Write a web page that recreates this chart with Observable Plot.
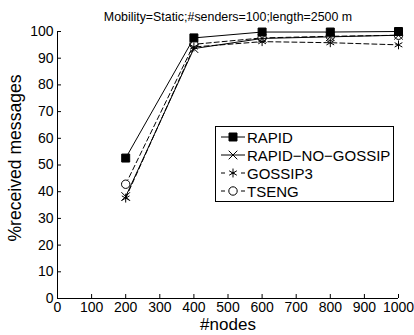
<!DOCTYPE html>
<html><head><meta charset="utf-8">
<script src="https://cdn.jsdelivr.net/npm/d3@7"></script>
<script src="https://cdn.jsdelivr.net/npm/@observablehq/plot@0.6"></script>
<style>
body{margin:0;background:#fff;}
#wrap{position:relative;width:414px;height:335px;}
#legend{position:absolute;left:215px;top:126px;width:179px;height:76px;border:1px solid #000;background:#fff;font-family:"Liberation Sans",Arial,sans-serif;font-size:15px;box-sizing:border-box;}
#legend .row{display:flex;align-items:center;height:18px;}
#legend svg{flex:none;}
</style>
</head><body>
<div id="wrap"></div>
<script>
const nodes = [200, 400, 600, 800, 1000];
const rapid = [52.6, 97.6, 99.8, 99.8, 100];
const rapidNoGossip = [38.2, 93.6, 97.4, 98.0, 98.6];
const gossip3 = [37.6, 94.2, 96.2, 95.8, 95.0];
const tseng = [42.8, 95.2, 97.6, 98.2, 98.6];
const seriesNames = ["RAPID", "RAPID−NO−GOSSIP", "GOSSIP3", "TSENG"];
const xTicks = [0,100,200,300,400,500,600,700,800,900,1000];
const yTicks = [0,10,20,30,40,50,60,70,80,90,100];
const title = "Mobility=Static;#senders=100;length=2500 m";

const styles = {
  "RAPID": {symbol: "square", fill: "black", dash: null, r: 4.5},
  "RAPID−NO−GOSSIP": {symbol: "times", fill: "none", dash: null, r: 4},
  "GOSSIP3": {symbol: "asterisk", fill: "none", dash: "5,3", r: 4.2},
  "TSENG": {symbol: "circle", fill: "white", dash: "5,3", r: 4.2}
};
const valuesBy = {"RAPID": rapid, "RAPID−NO−GOSSIP": rapidNoGossip, "GOSSIP3": gossip3, "TSENG": tseng};
const data = seriesNames.map(s => nodes.map((n, i) => ({series: s, nodes: n, value: valuesBy[s][i]})));

const W = 414, H = 335, mL = 57, mR = 16, mT = 31, mB = 37;
const marks = [
  Plot.axisX(xTicks, {tickSize: 0, tickPadding: 4, label: null, fontSize: 14, tickFormat: d => String(d)}),
  Plot.axisY(yTicks, {tickSize: 0, tickPadding: 4, label: null, fontSize: 14, tickFormat: d => String(d)}),
  Plot.tickX(xTicks, {x: d => d, insetTop: H - mT - mB - 4, stroke: "black"}),
  Plot.tickY(yTicks, {y: d => d, insetRight: W - mL - mR - 4, stroke: "black"}),
  Plot.ruleY([0], {stroke: "black"}),
  Plot.ruleX([0], {stroke: "black"}),
];
["TSENG", "GOSSIP3", "RAPID−NO−GOSSIP", "RAPID"].forEach(s => {
  const st = styles[s];
  const d = data[seriesNames.indexOf(s)];
  marks.push(Plot.line(d, {x: "nodes", y: "value", stroke: "black", strokeWidth: 1, strokeDasharray: st.dash}));
  marks.push(Plot.dot(d, {x: "nodes", y: "value", symbol: () => st.symbol, r: st.r, stroke: "black", strokeWidth: 1, fill: st.fill}));
});
marks.push(Plot.text([title], {frameAnchor: "top", dy: -19, fontSize: 12.4, text: d => d}));
marks.push(Plot.text(["#nodes"], {frameAnchor: "bottom", dy: 26, fontSize: 17, text: d => d, lineAnchor: "middle"}));
marks.push(Plot.text(["%received messages"], {frameAnchor: "left", textAnchor: "middle", dx: -42, dy: -7, rotate: -90, fontSize: 17.6, text: d => d}));

const chart = Plot.plot({
  width: W, height: H,
  marginLeft: mL, marginRight: mR, marginTop: mT, marginBottom: mB,
  style: {fontFamily: "Liberation Sans, Arial, sans-serif", fontSize: "14px", background: "white", color: "black", overflow: "visible"},
  x: {domain: [0, 1000], ticks: xTicks},
  y: {domain: [0, 100], ticks: yTicks},
  marks
});
const wrap = document.getElementById("wrap");
wrap.appendChild(chart);

const leg = document.createElement("div");
leg.id = "legend";
leg.style.paddingTop = "1px";
const ns = "http://www.w3.org/2000/svg";
seriesNames.forEach(s => {
  const st = styles[s];
  const row = document.createElement("div");
  row.className = "row";
  const svg = document.createElementNS(ns, "svg");
  svg.setAttribute("width", 31); svg.setAttribute("height", 18);
  const line = document.createElementNS(ns, "line");
  line.setAttribute("x1", 5); line.setAttribute("x2", 29); line.setAttribute("y1", 9); line.setAttribute("y2", 9);
  line.setAttribute("stroke", "black");
  if (st.dash) line.setAttribute("stroke-dasharray", "4,6");
  svg.appendChild(line);
  const sym = {square: d3.symbolSquare, times: d3.symbolTimes, asterisk: d3.symbolAsterisk, circle: d3.symbolCircle}[st.symbol];
  const p = document.createElementNS(ns, "path");
  p.setAttribute("d", d3.symbol(sym, st.r * st.r * Math.PI)());
  p.setAttribute("transform", "translate(17,9)");
  p.setAttribute("stroke", "black"); p.setAttribute("fill", st.fill);
  svg.appendChild(p);
  row.appendChild(svg);
  const t = document.createElement("span");
  t.textContent = s;
  row.appendChild(t);
  leg.appendChild(row);
});
wrap.appendChild(leg);
</script>
</body></html>
